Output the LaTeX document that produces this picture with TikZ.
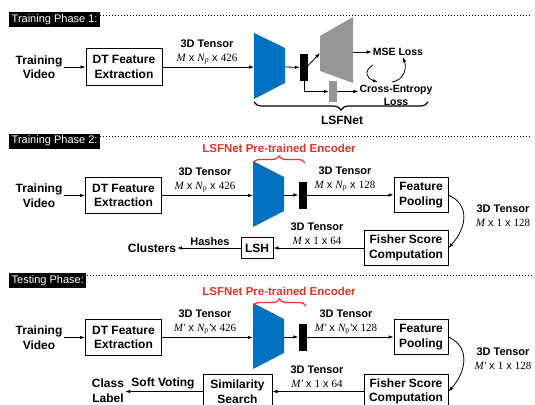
\documentclass[tikz,border=0pt]{standalone}
\usepackage{fontspec}
\setmainfont{Liberation Sans}
\newfontfamily\timesf{Liberation Serif}
\usetikzlibrary{arrows.meta}
\usetikzlibrary{decorations.pathreplacing}

\definecolor{encblue}{RGB}{0,112,192}
\definecolor{decgray}{RGB}{150,150,150}
\definecolor{lsfred}{RGB}{232,50,40}

\newcommand{\tm}[1]{{\timesf\itshape #1}}
\newcommand{\tr}[1]{{\timesf #1}}
\newcommand{\tsub}[1]{\textsubscript{#1}}

\tikzset{
  box/.style={draw, line width=1pt, align=center, font=\bfseries\fontsize{12}{14.5}\selectfont,
    minimum width=76pt, minimum height=36pt, inner sep=1pt},
  word/.style={align=center, font=\bfseries\fontsize{12}{14.5}\selectfont, inner sep=1pt},
  dims/.style={align=center, font=\bfseries\fontsize{11}{14}\selectfont, inner sep=0pt},
  loss/.style={align=center, font=\bfseries\fontsize{10.5}{13}\selectfont, inner sep=1pt},
  phase/.style={fill=black, text=white, anchor=west, font=\fontsize{11}{12}\selectfont,
    minimum height=15pt, inner xsep=2.5pt, inner ysep=1pt},
  sep/.style={dash pattern=on 1pt off 2pt, line width=0.8pt},
  arr/.style={-{Latex[length=5pt,width=3.6pt]}, line width=0.8pt},
  bar/.style={fill=black, minimum width=8pt, minimum height=27pt, inner sep=0pt},
  enc/.style={fill=encblue},
  encname/.style={text=lsfred, font=\bfseries\fontsize{11.5}{13}\selectfont, inner sep=0pt},
  redbrace/.style={draw=lsfred, line width=1.2pt, decorate, decoration={brace, amplitude=7pt}},
}

\begin{document}
\begin{tikzpicture}[x=1pt,y=-1pt]
\useasboundingbox (0,0) rectangle (535,404);
\clip (0,0) rectangle (535,404);

% training phase 1
\node[phase] (ph1) at (9,20) {Training Phase 1:};
\draw[sep] ([yshift=-3pt]ph1.north east) -- +(430,0);

\node[word] (tv1) at (39,67) {Training\\Video};
\node[box] (dt1) at (124,67) {DT Feature\\Extraction};
\draw[arr] (tv1) -- (dt1);

\fill[enc] (254,33) -- (285,48) -- (285,83) -- (254,99) -- cycle;
\coordinate (en1) at (254,67);
\coordinate (en1r) at (285,67);
\draw[arr] (dt1) -- (dt1 -| en1);
\node[dims] (t1) at (207,52) {3D Tensor\\{\mdseries\tm{M} x \tm{N}\tsub{\tm{p}} x \tr{426}}};

\node[bar] (b1) at (304,67.5) {};
\draw[arr] (en1r) -- (b1);

\fill[decgray] (320,36) -- (353,17) -- (353,83) -- (320,71) -- cycle;
\coordinate (de1) at (320,53);
\coordinate (de1r) at (353,52);
\draw[arr] ([yshift=2pt]b1.east) -- (de1);

\node[fill=decgray, minimum width=8pt, minimum height=21pt, inner sep=0pt] (g1) at (333,91.5) {};
\draw[arr] (b1.south) |- (g1);

\node[loss] (mse) at (398,52) {MSE Loss};
\node[loss] (ce) at (396,95.5) {Cross-Entropy\\Loss};
\draw[arr] (de1r) -- (mse);
\draw[arr] (g1) -- (g1 -| ce.west);
\draw[arr] ([xshift=-25pt,yshift=-13pt]mse.center) .. controls +(-10,6) and +(-11,-3) .. ([xshift=-18pt,yshift=13.5pt]ce.center);
\draw[arr] ([xshift=-4pt,yshift=13.5pt]ce.center) .. controls +(12,-2) and +(4,12) .. ([xshift=5pt,yshift=-5pt]mse.center);

\draw[decorate, decoration={brace, amplitude=8pt, mirror}, line width=1.2pt] (254,102) -- (428,102);
\node[word] (lsf) at (342,120) {LSFNet};

% training phase 2
\node[phase] (ph2) at (9,141) {Training Phase 2:};
\draw[sep] ([yshift=-3pt]ph2.north east) -- +(430,0);

\node[word] (tv2) at (39,195.5) {Training\\Video};
\node[box] (dt2) at (123.5,195.5) {DT Feature\\Extraction};
\draw[arr] (tv2) -- (dt2);

\fill[enc] (253,161) -- (284,177) -- (284,211) -- (253,227) -- cycle;
\coordinate (en2) at (253,196);
\coordinate (en2r) at (284,195);
\draw[arr] (dt2) -- (dt2 -| en2);
\node[dims] (t2a) at (205,180) {3D Tensor\\{\mdseries\tm{M} x \tm{N}\tsub{\tr{p}} x \tr{426}}};

\node[encname] (pre2) at (279,148) {LSFNet Pre-trained Encoder};
\draw[redbrace] (253,163) -- (305,163);

\node[bar] (b2) at (302.5,195) {};
\draw[arr] (en2r) -- (b2);

\node[box, minimum width=54pt, minimum height=35pt] (fp2) at (421,195) {Feature\\Pooling};
\draw[arr] (b2) -- (fp2);
\node[dims] (t2b) at (345,179) {3D Tensor\\{\mdseries\tm{M} x \tm{N}\tsub{\tr{p}} x \tr{128}}};

\node[box, minimum width=84pt, minimum height=35pt] (fs2) at (406,248) {Fisher Score\\Computation};
\draw[arr] (fp2.east) .. controls +(22,10) and +(18,-20) .. (fs2.east);
\node[dims] (t2c) at (503,216) {3D Tensor\\{\mdseries\tm{M} x \tr{1} x \tr{128}}};

\node[box, minimum width=32pt, minimum height=21pt] (lsh) at (257,248) {LSH};
\draw[arr] (fs2) -- (lsh);
\node[dims] (t2d) at (317,234) {3D Tensor\\{\mdseries\tm{M} x \tr{1} x \tr{64}}};

\node[word] (cl) at (152,248) {Clusters};
\draw[arr] (lsh) -- (cl);
\node[dims, anchor=south] (hs) at (210,246) {Hashes};

% testing phase
\node[phase] (ph3) at (9,280.5) {Testing Phase:};
\draw[sep] ([yshift=-3pt]ph3.north east) -- +(446,0);

\node[word] (tv3) at (39,337.5) {Training\\Video};
\node[box] (dt3) at (123.5,337.5) {DT Feature\\Extraction};
\draw[arr] (tv3) -- (dt3);

\fill[enc] (253,303) -- (284,319) -- (284,353) -- (253,369) -- cycle;
\coordinate (en3) at (253,337);
\coordinate (en3r) at (284,337);
\draw[arr] (dt3) -- (dt3 -| en3);
\node[dims] (t3a) at (205,322) {3D Tensor\\{\mdseries\tm{M'} x \tm{N}\tsub{\tr{p}}\tm{'}x \tr{426}}};

\node[encname] (pre3) at (279,291) {LSFNet Pre-trained Encoder};
\draw[redbrace] (253,306) -- (306,306);

\node[bar] (b3) at (302.5,337) {};
\draw[arr] (en3r) -- (b3);

\node[box, minimum width=54pt, minimum height=35pt] (fp3) at (421,337) {Feature\\Pooling};
\draw[arr] (b3) -- (fp3);
\node[dims] (t3b) at (346,322) {3D Tensor\\{\mdseries\tm{M'} x \tm{N}\tsub{\tr{p}}\tm{'}x \tr{128}}};

\node[box, minimum width=84pt, minimum height=35pt] (fs3) at (406,391.5) {Fisher Score\\Computation};
\draw[arr] (fp3.east) .. controls +(22,10) and +(18,-20) .. (fs3.east);
\node[dims] (t3c) at (503,359) {3D Tensor\\{\mdseries\tm{M'} x \tr{1} x \tr{128}}};

\node[box, minimum width=69pt, minimum height=35pt] (ss) at (237.5,391.5) {Similarity\\Search};
\draw[arr] (fs3) -- (ss);
\node[dims] (t3d) at (317,377) {3D Tensor\\{\mdseries\tm{M'} x \tr{1} x \tr{64}}};

\node[word] (clab) at (108,390.5) {Class\\Label};
\draw[arr] (ss) -- (ss -| clab.east);
\node[word, anchor=south, inner sep=0.5pt] (sv) at (163,390) {Soft Voting};

\end{tikzpicture}
\end{document}
